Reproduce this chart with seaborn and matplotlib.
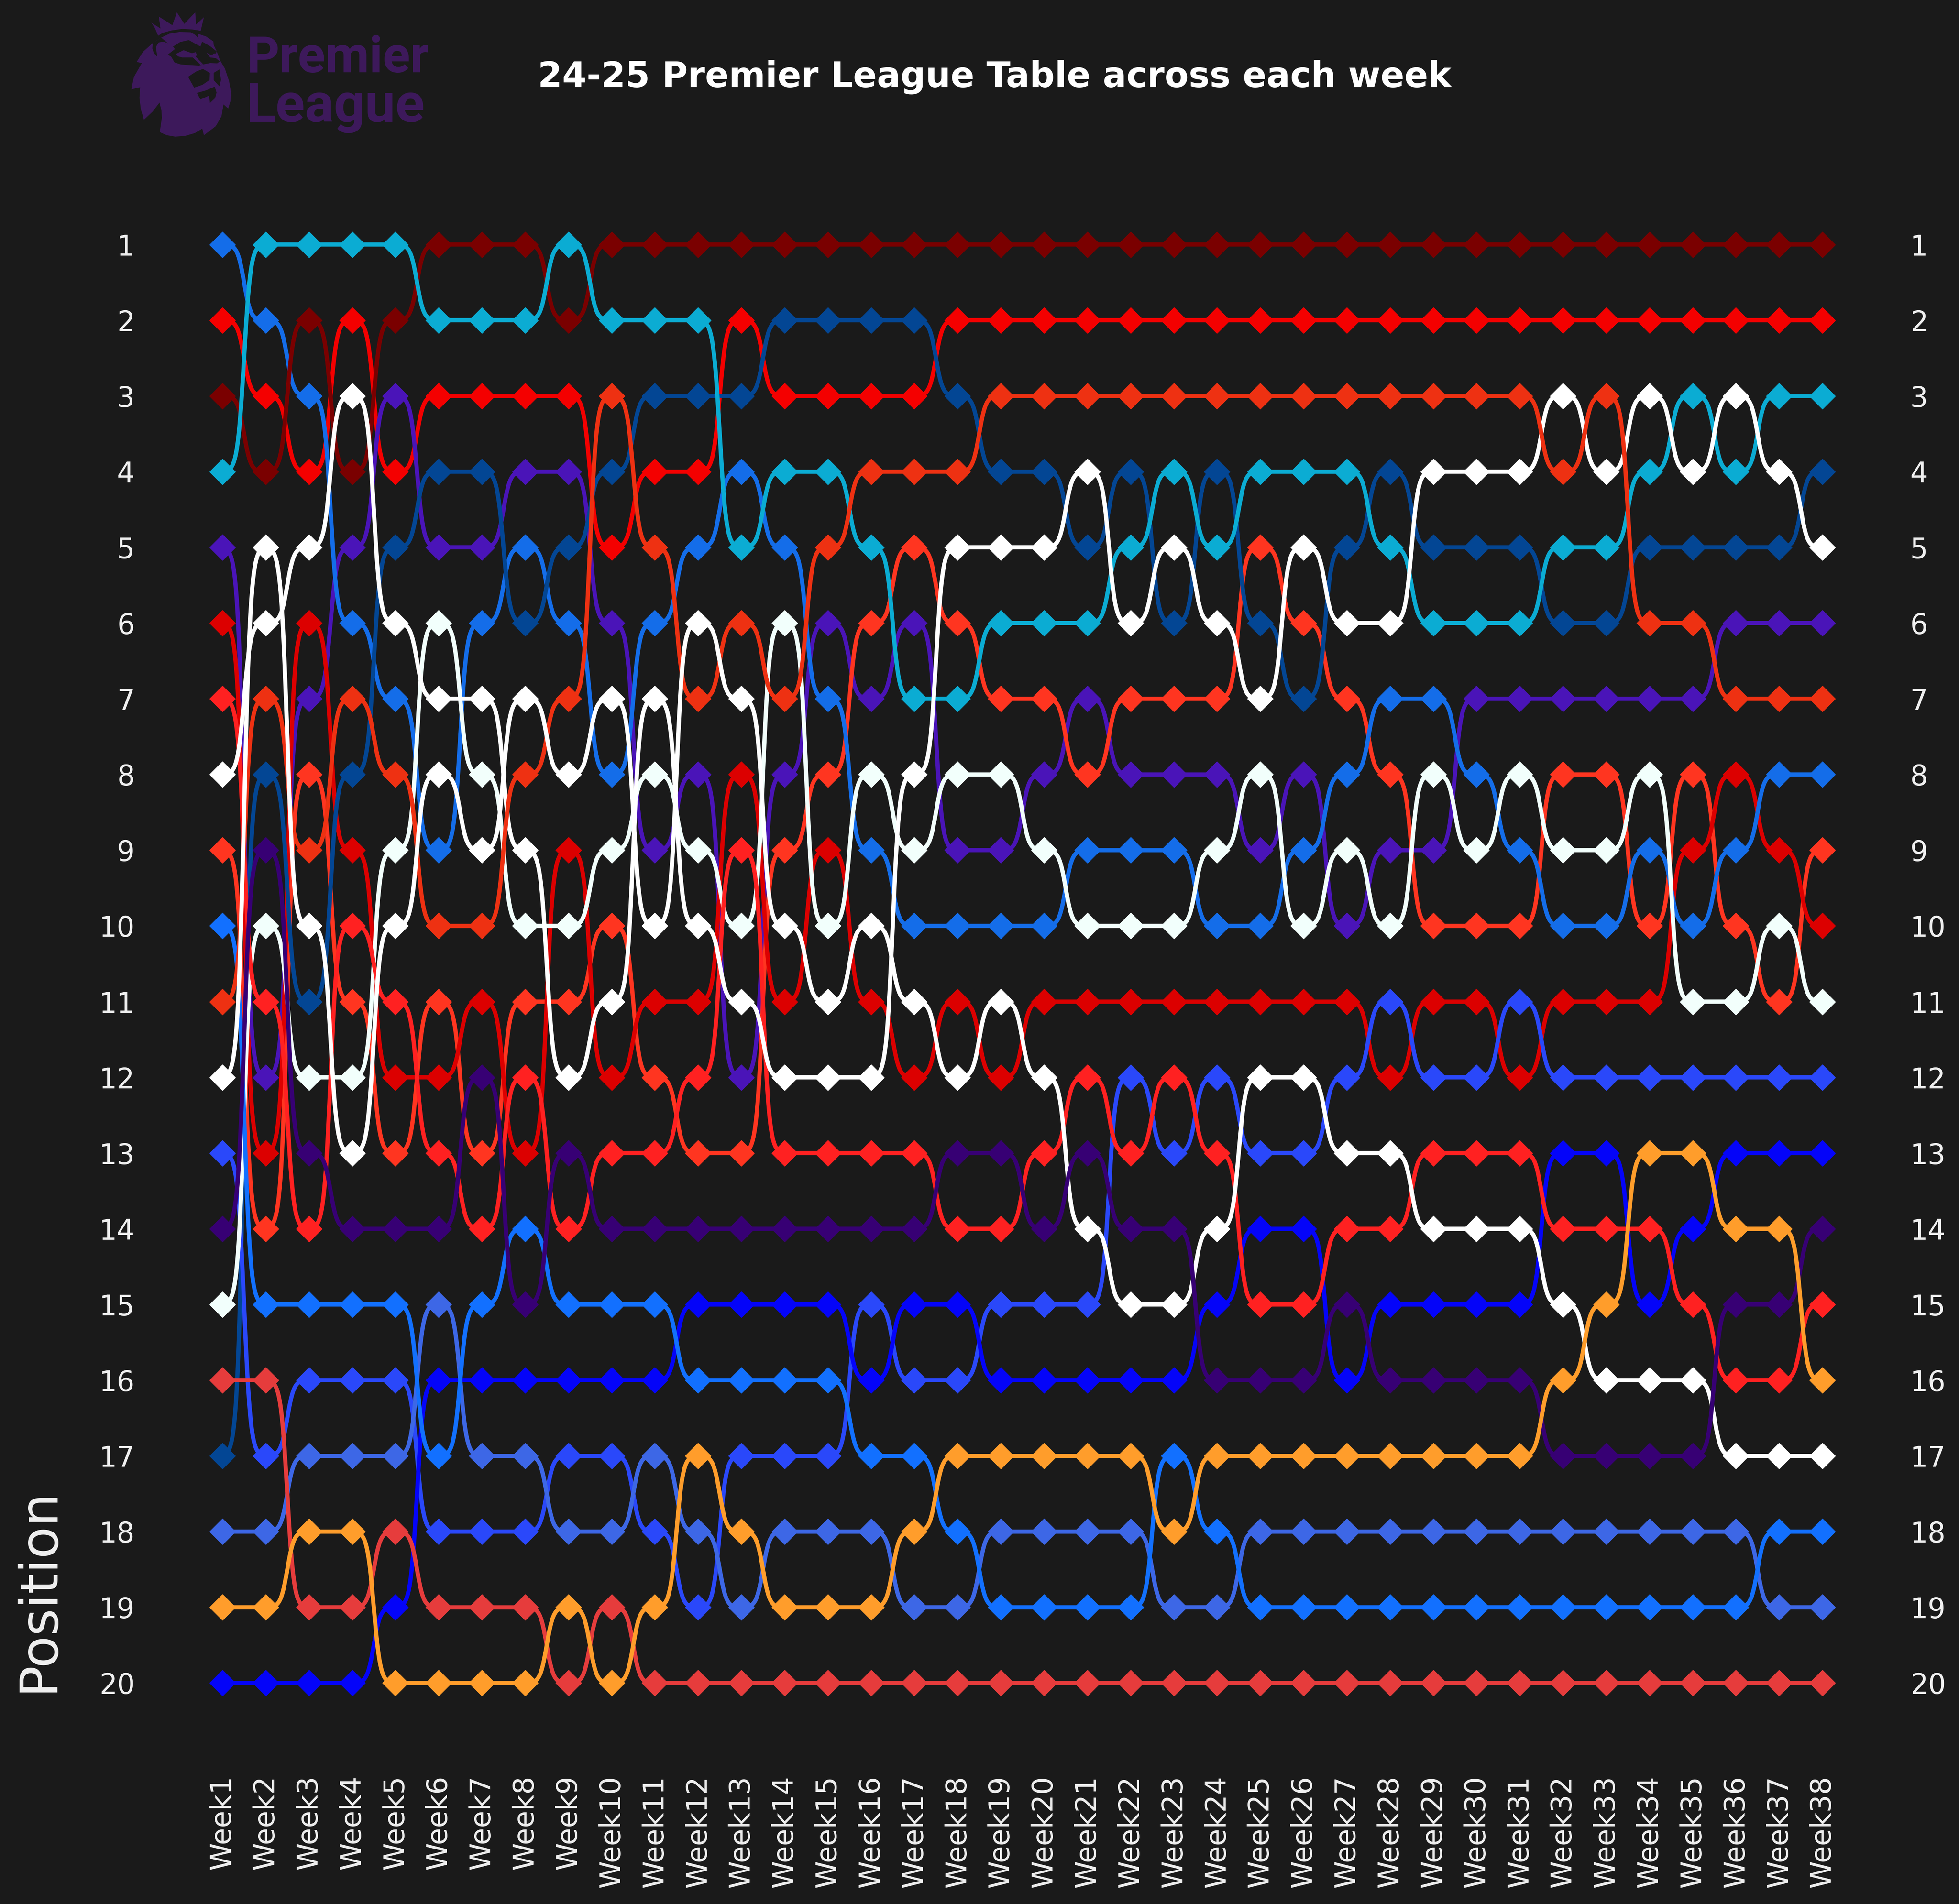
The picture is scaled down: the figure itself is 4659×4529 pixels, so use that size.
import numpy as np
import pandas as pd
import matplotlib.pyplot as plt
from matplotlib.patches import Polygon
import seaborn as sns

# teams in alphabetical order, later ones sit on top
teams = ["ARS", "AVL", "BOU", "BRE", "BHA", "CHE", "CRY", "EVE", "FUL", "IPS",
         "LEI", "LIV", "MCI", "MUN", "NEW", "NFO", "SOU", "TOT", "WHU", "WOL"]
colors = ["#f40000", "#4a14b8", "#ff3520", "#dc0000", "#146de9", "#034694", "#2a48fa",
          "#0404f9", "#f2fffc", "#3d67e6", "#1270ff", "#7a0000", "#0bacd3", "#ff2121",
          "#ffffff", "#ee3112", "#e63c3c", "#ffffff", "#370074", "#ff9d2b"]
positions = list(range(1, 21))

# table order, 1st to 20th, week by week
week01 = "BHA ARS LIV MCI AVL BRE MUN NEW BOU LEI NFO TOT CRY WHU FUL SOU CHE IPS WOL EVE".split()
week02 = "MCI BHA ARS LIV TOT NEW NFO CHE WHU FUL MUN AVL BRE BOU LEI SOU CRY IPS WOL EVE".split()
week03 = "MCI LIV BHA ARS NEW BRE AVL BOU NFO TOT CHE FUL WHU MUN LEI CRY IPS WOL SOU EVE".split()
week04 = "MCI ARS NEW LIV AVL BHA NFO CHE BRE MUN BOU FUL TOT WHU LEI CRY IPS WOL SOU EVE".split()
week05 = "MCI LIV AVL ARS CHE NEW BHA NFO FUL TOT MUN BRE BOU WHU LEI CRY IPS SOU EVE WOL".split()
week06 = "LIV MCI ARS CHE AVL FUL NEW TOT BHA NFO BOU BRE MUN WHU IPS EVE LEI CRY SOU WOL".split()
week07 = "LIV MCI ARS CHE AVL BHA NEW FUL TOT NFO BRE WHU BOU MUN LEI EVE IPS CRY SOU WOL".split()
week08 = "LIV MCI ARS AVL BHA CHE TOT NFO NEW FUL BOU MUN BRE LEI WHU EVE IPS CRY SOU WOL".split()
week09 = "MCI LIV ARS AVL CHE BHA NFO TOT BRE FUL BOU NEW WHU MUN LEI EVE CRY IPS WOL SOU".split()
week10 = "LIV MCI NFO CHE ARS AVL TOT BHA FUL BOU NEW BRE MUN WHU LEI EVE CRY IPS SOU WOL".split()
week11 = "LIV MCI CHE ARS NFO BHA NEW FUL AVL TOT BRE BOU MUN WHU LEI EVE IPS CRY WOL SOU".split()
week12 = "LIV MCI CHE ARS BHA TOT NFO AVL FUL NEW BRE MUN BOU WHU EVE LEI WOL IPS CRY SOU".split()
week13 = "LIV ARS CHE BHA MCI NFO TOT BRE MUN FUL NEW AVL BOU WHU EVE LEI CRY WOL IPS SOU".split()
week14 = "LIV CHE ARS MCI BHA FUL NFO AVL BOU TOT BRE NEW MUN WHU EVE LEI CRY IPS WOL SOU".split()
week15 = "LIV CHE ARS MCI NFO AVL BHA BOU BRE FUL TOT NEW MUN WHU EVE LEI CRY IPS WOL SOU".split()
week16 = "LIV CHE ARS NFO MCI BOU AVL FUL BHA TOT BRE NEW MUN WHU CRY EVE LEI IPS WOL SOU".split()
week17 = "LIV CHE ARS NFO BOU AVL MCI NEW FUL BHA TOT BRE MUN WHU EVE CRY LEI WOL IPS SOU".split()
week18 = "LIV ARS CHE NFO NEW BOU MCI FUL AVL BHA BRE TOT WHU MUN EVE CRY WOL LEI IPS SOU".split()
week19 = "LIV ARS NFO CHE NEW MCI BOU FUL AVL BHA TOT BRE WHU MUN CRY EVE WOL IPS LEI SOU".split()
week20 = "LIV ARS NFO CHE NEW MCI BOU AVL FUL BHA BRE TOT MUN WHU CRY EVE WOL IPS LEI SOU".split()
week21 = "LIV ARS NFO NEW CHE MCI AVL BOU BHA FUL BRE MUN WHU TOT CRY EVE WOL IPS LEI SOU".split()
week22 = "LIV ARS NFO CHE MCI NEW BOU AVL BHA FUL BRE CRY MUN WHU TOT EVE WOL IPS LEI SOU".split()
week23 = "LIV ARS NFO MCI NEW CHE BOU AVL BHA FUL BRE MUN CRY WHU TOT EVE LEI WOL IPS SOU".split()
week24 = "LIV ARS NFO CHE MCI NEW BOU AVL FUL BHA BRE CRY MUN TOT EVE WHU WOL LEI IPS SOU".split()
week25 = "LIV ARS NFO MCI BOU CHE NEW FUL AVL BHA BRE TOT CRY EVE MUN WHU WOL IPS LEI SOU".split()
week26 = "LIV ARS NFO MCI NEW BOU CHE AVL BHA FUL BRE TOT CRY EVE MUN WHU WOL IPS LEI SOU".split()
week27 = "LIV ARS NFO MCI CHE NEW BOU BHA FUL AVL BRE CRY TOT MUN WHU EVE WOL IPS LEI SOU".split()
week28 = "LIV ARS NFO CHE MCI NEW BHA BOU AVL FUL CRY BRE TOT MUN EVE WHU WOL IPS LEI SOU".split()
week29 = "LIV ARS NFO NEW CHE MCI BHA FUL AVL BOU BRE CRY MUN TOT EVE WHU WOL IPS LEI SOU".split()
week30 = "LIV ARS NFO NEW CHE MCI AVL BHA FUL BOU BRE CRY MUN TOT EVE WHU WOL IPS LEI SOU".split()
week31 = "LIV ARS NFO NEW CHE MCI AVL FUL BHA BOU CRY BRE MUN TOT EVE WHU WOL IPS LEI SOU".split()
week32 = "LIV ARS NEW NFO MCI CHE AVL BOU FUL BHA BRE CRY EVE MUN TOT WOL WHU IPS LEI SOU".split()
week33 = "LIV ARS NFO NEW MCI CHE AVL BOU FUL BHA BRE CRY EVE MUN WOL TOT WHU IPS LEI SOU".split()
week34 = "LIV ARS NEW MCI CHE NFO AVL FUL BHA BOU BRE CRY WOL MUN EVE TOT WHU IPS LEI SOU".split()
week35 = "LIV ARS MCI NEW CHE NFO AVL BOU BRE BHA FUL CRY WOL EVE MUN TOT WHU IPS LEI SOU".split()
week36 = "LIV ARS NEW MCI CHE AVL NFO BRE BHA BOU FUL CRY EVE WOL WHU MUN TOT IPS LEI SOU".split()
week37 = "LIV ARS MCI NEW CHE AVL NFO BHA BRE FUL BOU CRY EVE WOL WHU MUN TOT LEI IPS SOU".split()
week38 = "LIV ARS MCI CHE NEW AVL NFO BHA BOU BRE FUL CRY EVE WHU MUN WOL TOT LEI IPS SOU".split()

weeks = [week01, week02, week03, week04, week05, week06, week07, week08, week09, week10,
         week11, week12, week13, week14, week15, week16, week17, week18, week19, week20,
         week21, week22, week23, week24, week25, week26, week27, week28, week29, week30,
         week31, week32, week33, week34, week35, week36, week37, week38]
week_labels = [f"Week{i + 1}" for i in range(len(weeks))]

rows = []
for i, order in enumerate(weeks):
    for team, pos in zip(order, positions):
        rows.append({"week": i, "team": team, "position": pos})
table = pd.DataFrame(rows)

BG = "#1a1a1a"
PURPLE = "#3d195b"
LABEL = "#f0f0f0"
W, H = 4659, 4529

sns.set_theme(style="white")
plt.rcParams["font.family"] = "DejaVu Sans"

fig = plt.figure(figsize=(W / 300, H / 300), dpi=300, facecolor=BG)
ax = fig.add_axes([477.6 / W, 1 - 4093.5 / H, 3908 / W, 3602 / H], facecolor=BG)


# s-curve between two weeks, only the shape of the line
def bump_curve(x, y, k=13, n=60):
    t = np.linspace(0, 1, n)
    s = 1 / (1 + np.exp(-k * (t - 0.5)))
    s = (s - s[0]) / (s[-1] - s[0])
    xs, ys = [], []
    for i in range(len(x) - 1):
        xs.append(x[i] + t)
        ys.append(y[i] + (y[i + 1] - y[i]) * s)
    return np.concatenate(xs), np.concatenate(ys)


for i, (team, color) in enumerate(zip(teams, colors)):
    d = table[table["team"] == team].sort_values("week")
    xs, ys = bump_curve(d["week"].values, d["position"].values)
    sns.lineplot(x=xs, y=ys, color=color, linewidth=2.4, sort=False, estimator=None,
                 ax=ax, zorder=3 + 2 * i)
    sns.scatterplot(data=d, x="week", y="position", color=color, marker="D", s=105,
                    linewidth=0.5, edgecolor=color, ax=ax, zorder=4 + 2 * i, legend=False)

ax.set_xlim(-0.5, 37.5)
ax.set_ylim(20.5, 0.5)
ax.set_xticks(range(len(week_labels)))
ax.set_xticklabels(week_labels, rotation=90, color=LABEL, fontsize=16)
ax.set_yticks(positions)
ax.set_yticklabels(positions, color=LABEL, fontsize=16)
ax.tick_params(axis="x", length=0, pad=31)
ax.tick_params(axis="y", length=0, pad=37.7, left=False, right=False, labelleft=True, labelright=True)
ax.set_xlabel("")
ax.set_ylabel("Position", color=LABEL, fontsize=30)
ax.yaxis.set_label_coords((152 - 477.6) / 3908, 0.0865)
sns.despine(ax=ax, left=True, bottom=True)

fig.text(2365 / W, 1 - 183 / H, "24-25 Premier League Table across each week",
         color="white", fontsize=20, fontweight="bold", ha="center", va="center")

# logo, redrawn by hand on a pixel overlay
logo = fig.add_axes([0, 0, 1, 1], facecolor="none")
logo.set_xlim(0, W)
logo.set_ylim(H, 0)
logo.axis("off")


def to_px(points):
    return [(300 + px / 3, 20 + py / 3) for px, py in points]


crown = [(228, 195), (205, 140), (180, 102), (245, 143), (233, 58), (330, 120), (362, 28),
         (415, 110), (493, 28), (499, 115), (555, 63), (532, 160), (470, 150), (400, 146),
         (320, 158), (260, 175)]
mane = [(250, 208), (310, 180), (380, 168), (460, 170), (495, 190), (517, 217), (510, 180),
        (570, 200), (622, 235), (625, 262), (646, 305), (670, 370), (705, 430), (735, 520),
        (748, 600), (745, 660), (728, 715), (695, 685), (680, 770), (640, 840), (555, 905),
        (543, 858), (490, 890), (420, 910), (350, 915), (290, 905), (240, 883), (255, 780),
        (252, 730), (238, 672), (190, 735), (127, 795), (105, 720), (95, 640), (100, 562),
        (37, 578), (55, 490), (112, 390), (75, 382), (120, 310), (190, 247)]
cuts = [
    [(190, 247), (250, 208), (297, 248), (265, 237), (232, 243), (212, 275), (222, 345),
     (197, 318), (187, 285)],
    [(297, 330), (348, 290), (335, 272), (385, 240), (447, 226), (530, 272), (542, 237),
     (600, 270), (646, 307), (640, 322), (625, 322), (610, 335), (573, 316), (600, 350),
     (640, 355), (668, 378), (650, 392), (600, 390), (548, 400), (520, 408), (390, 400),
     (345, 385), (322, 345)],
    [(442, 488), (500, 450), (548, 432), (597, 460), (595, 510), (545, 545), (485, 565)],
    [(625, 460), (665, 435), (677, 510), (665, 555), (625, 512)],
    [(505, 603), (570, 585), (632, 558), (645, 600), (635, 640), (598, 675), (592, 622),
     (530, 650)],
]
eye = [(355, 325), (410, 298), (470, 320), (495, 312), (505, 330), (497, 345), (552, 400),
       (530, 402), (475, 350), (400, 350), (370, 342)]

logo.add_patch(Polygon(to_px(crown), closed=True, facecolor=PURPLE, edgecolor="none"))
logo.add_patch(Polygon(to_px(mane), closed=True, facecolor=PURPLE, edgecolor="none"))
for cut in cuts:
    logo.add_patch(Polygon(to_px(cut), closed=True, facecolor=BG, edgecolor="none"))
logo.add_patch(Polygon(to_px(eye), closed=True, facecolor=PURPLE, edgecolor="none"))

logo.text(586, 172, "Premier", color=PURPLE, fontsize=29, fontweight="bold",
          family="Roboto", ha="left", va="baseline")
logo.text(586, 290, "League", color=PURPLE, fontsize=31, fontweight="bold",
          family="Roboto", ha="left", va="baseline")

fig.savefig("out.png", dpi=300, facecolor=BG)
